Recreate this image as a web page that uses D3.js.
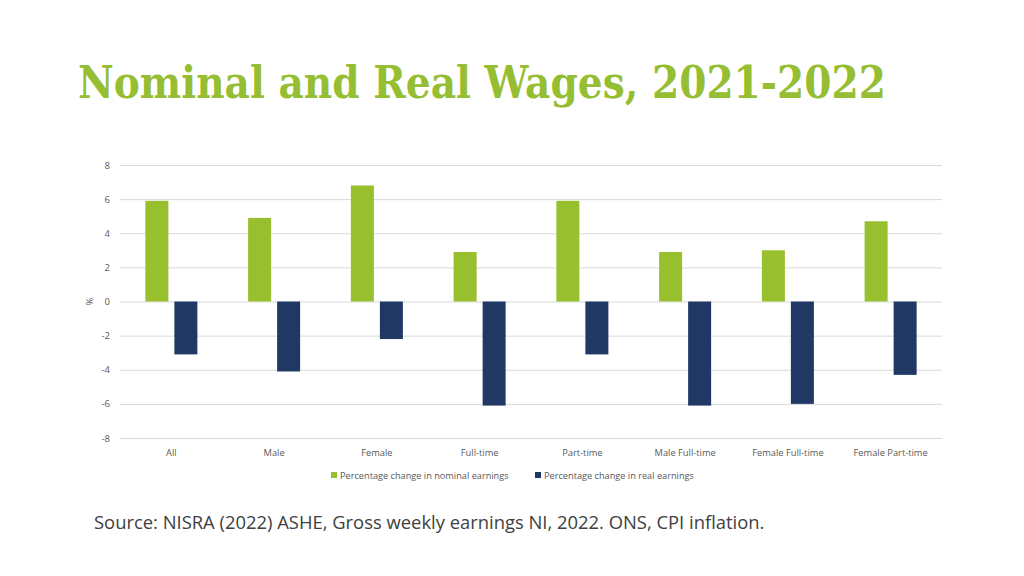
<!DOCTYPE html>
<html><head><meta charset="utf-8">
<script src="https://cdn.jsdelivr.net/npm/d3@7"></script>
<style>body{margin:0;background:#fff}svg{display:block}</style>
</head><body><svg id="c" width="1024" height="576"></svg>
<script>
const categories = ["All","Male","Female","Full-time","Part-time","Male Full-time","Female Full-time","Female Part-time"];
const nominal = [5.9,4.9,6.8,2.9,5.9,2.9,3.0,4.7];
const real = [-3.1,-4.1,-2.2,-6.1,-3.1,-6.1,-6.0,-4.3];
const yTicks = [8,6,4,2,0,-2,-4,-6,-8];
const seriesNames = ["Percentage change in nominal earnings","Percentage change in real earnings"];
const colors = ["#97bf2e","#1f3864"];

(function(){
const svg = d3.select("#c");
const pLeft=120,pRight=942,pTop=165,pBottom=438;
const x = d3.scaleBand().domain(categories).range([pLeft,pRight]).paddingInner(0).paddingOuter(0);
const y = d3.scaleLinear().domain([-8,8]).range([pBottom,pTop]);

svg.append("text").attr("x",78).attr("y",98).attr("fill","#96be33")
  .attr("font-family","'DejaVu Serif', serif").attr("font-weight","bold").attr("font-size",44)
  .attr("textLength",808).attr("lengthAdjust","spacingAndGlyphs")
  .text("Nominal and Real Wages, 2021-2022");

const yAxis = d3.axisLeft(y).tickValues(yTicks).tickSize(-(pRight-pLeft)).tickPadding(10).tickFormat(d=>String(d));
const gy = svg.append("g").attr("transform",`translate(${pLeft},0)`).call(yAxis);
gy.select(".domain").remove();
gy.selectAll(".tick line").attr("stroke","#d9d9d9").attr("stroke-width",1);
gy.selectAll(".tick text").attr("fill","#595959").attr("font-family","'Open Sans'").attr("font-size",9.5);

svg.append("text").attr("transform",`translate(93,${y(0)}) rotate(-90)`).attr("text-anchor","middle")
  .attr("fill","#595959").attr("font-family","'Open Sans'").attr("font-size",9.5).text("%");

const bw = 23;
const g = svg.append("g");
g.selectAll("rect.n").data(categories).join("rect").attr("class","n")
  .attr("x",d=>x(d)+x.bandwidth()/2-26).attr("width",bw)
  .attr("y",(d,i)=>y(Math.max(0,nominal[i]))).attr("height",(d,i)=>Math.abs(y(nominal[i])-y(0)))
  .attr("fill",colors[0]);
g.selectAll("rect.r").data(categories).join("rect").attr("class","r")
  .attr("x",d=>x(d)+x.bandwidth()/2+3).attr("width",bw)
  .attr("y",(d,i)=>y(Math.max(0,real[i]))).attr("height",(d,i)=>Math.abs(y(real[i])-y(0)))
  .attr("fill",colors[1]);

const xAxis = d3.axisBottom(x).tickSize(0).tickPadding(11);
const gx = svg.append("g").attr("transform",`translate(0,${pBottom})`).call(xAxis);
gx.select(".domain").remove();
gx.selectAll(".tick text").attr("fill","#595959").attr("font-family","'Open Sans'").attr("font-size",9.3);

const legX=[331,535];
seriesNames.forEach((n,i)=>{
  svg.append("rect").attr("x",legX[i]).attr("y",472).attr("width",6).attr("height",6).attr("fill",colors[i]);
  svg.append("text").attr("x",legX[i]+9).attr("y",478.5).attr("fill","#595959")
    .attr("font-family","'Open Sans'").attr("font-size",9.2).text(n);
});

svg.append("text").attr("x",94).attr("y",529).attr("fill","#404040")
  .attr("font-family","'Open Sans'").attr("font-size",18.4)
  .text("Source: NISRA (2022) ASHE, Gross weekly earnings NI, 2022. ONS, CPI inflation.");
})();
</script></body></html>
